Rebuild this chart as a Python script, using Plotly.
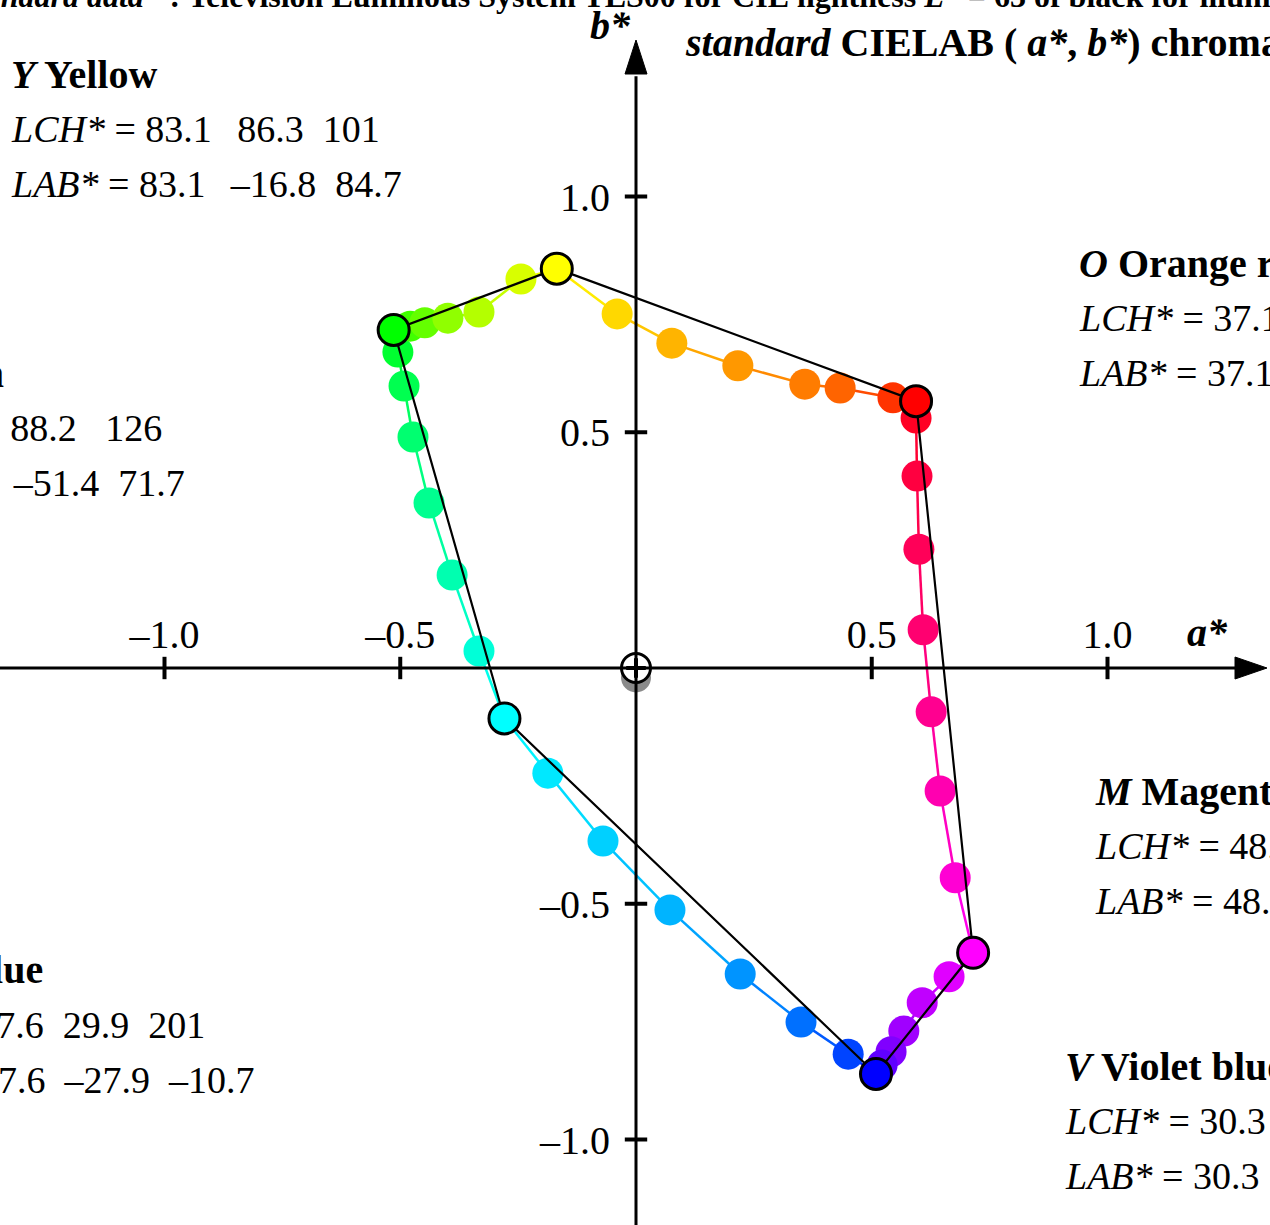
import plotly.graph_objects as go

# ---------------- data (a*, b* chroma coordinates = LAB/100) ----------------
hue_a = [-0.168, -0.040, 0.076, 0.216, 0.358, 0.433, 0.545,
         0.594, 0.594, 0.596, 0.600, 0.609, 0.626, 0.645, 0.677,
         0.715, 0.664, 0.607, 0.568, 0.541, 0.522,
         0.509, 0.450, 0.350, 0.221, 0.072, -0.070, -0.187,
         -0.279, -0.333, -0.390, -0.439, -0.473, -0.492, -0.505,
         -0.514, -0.479, -0.448, -0.399, -0.333, -0.244]
hue_b = [0.847, 0.751, 0.689, 0.641, 0.602, 0.594, 0.573,
         0.566, 0.530, 0.407, 0.252, 0.081, -0.093, -0.261, -0.445,
         -0.604, -0.655, -0.710, -0.770, -0.814, -0.842,
         -0.861, -0.819, -0.751, -0.649, -0.513, -0.367, -0.223,
         -0.107, 0.036, 0.197, 0.350, 0.490, 0.598, 0.670,
         0.717, 0.725, 0.732, 0.742, 0.755, 0.825]

main_names = ["Y", "O", "M", "V", "C", "L"]
main_a = [-0.168, 0.594, 0.715, 0.509, -0.279, -0.514]
main_b = [0.847, 0.566, -0.604, -0.861, -0.107, 0.717]

grey_a = [0.0]
grey_b = [-0.02]
origin_a = [0.0]
origin_b = [0.0]

tick_vals = [-1.0, -0.5, 0.5, 1.0]
tick_text = ["–1.0", "–0.5", "0.5", "1.0"]

# ---------------- styles ----------------
dot_colors = ["#ffff00", "#ffd800", "#ffb400", "#ff9800", "#ff7c00", "#ff6400", "#ff3300",
              "#ff0000", "#ff0024", "#ff0040", "#ff0058", "#ff0070", "#ff0090", "#ff00b0", "#ff00d4",
              "#ff00ff", "#e000ff", "#c000ff", "#a000ff", "#8000ff", "#6000ff",
              "#0000ff", "#0044ff", "#0070ff", "#0094ff", "#00b4ff", "#00d0ff", "#00e8ff",
              "#00ffff", "#00ffd8", "#00ffb0", "#00ff90", "#00ff70", "#00ff50", "#00ff30",
              "#00ff00", "#40ff00", "#64ff00", "#90ff00", "#b4ff00", "#d8ff00"]
main_colors = ["#ffff00", "#ff0000", "#ff00ff", "#0000ff", "#00ffff", "#00ff00"]

W, H = 1270, 1225
X0, Y0, S = 636.0, 668.0, 471.5
xr = [-X0 / S, (W - X0) / S]
yr = [-(H - Y0) / S, Y0 / S]
FONT = "Liberation Serif"
FS = 40
FV = 38


def hx(c):
    c = c.lstrip("#")
    return [int(c[i:i + 2], 16) for i in (0, 2, 4)]


def mix(c1, c2):
    r1, r2 = hx(c1), hx(c2)
    return "#%02x%02x%02x" % tuple((a + b) // 2 for a, b in zip(r1, r2))


fig = go.Figure()

# coloured connecting lines
n = len(hue_a)
for i in range(n):
    j = (i + 1) % n
    fig.add_trace(go.Scatter(x=[hue_a[i], hue_a[j]], y=[hue_b[i], hue_b[j]], mode="lines",
                             line=dict(color=mix(dot_colors[i], dot_colors[j]), width=2.5),
                             hoverinfo="skip", cliponaxis=False))

# grey (neutral) shadow and origin
fig.add_trace(go.Scatter(x=grey_a, y=grey_b, mode="markers",
                         marker=dict(size=30, color="#8a8a8a", line=dict(width=0))))

# coloured dots
fig.add_trace(go.Scatter(x=hue_a, y=hue_b, mode="markers",
                         marker=dict(size=31, color=dot_colors, line=dict(width=0))))

# black polygon
fig.add_trace(go.Scatter(x=main_a + main_a[:1], y=main_b + main_b[:1], mode="lines",
                         line=dict(color="black", width=2.2)))

# tick marks (crossing the axes)
fig.add_trace(go.Scatter(x=tick_vals, y=[0] * len(tick_vals), mode="markers",
                         marker=dict(symbol="line-ns", size=16, line=dict(width=4, color="black"))))
fig.add_trace(go.Scatter(x=[0] * len(tick_vals), y=tick_vals, mode="markers",
                         marker=dict(symbol="line-ew", size=16, line=dict(width=4, color="black"))))

# main points
fig.add_trace(go.Scatter(x=main_a, y=main_b, mode="markers", text=main_names,
                         marker=dict(size=31, color=main_colors, line=dict(width=3, color="black"))))
fig.add_trace(go.Scatter(x=origin_a, y=origin_b, mode="markers",
                         marker=dict(size=29, color="white", line=dict(width=3, color="black"))))
fig.add_trace(go.Scatter(x=origin_a, y=origin_b, mode="markers",
                         marker=dict(symbol="cross-thin", size=14, line=dict(width=4, color="black"))))

# axis lines and arrowheads
ax_tip = (1267 - X0) / S
ax_base = (1235 - X0) / S
by_tip = (Y0 - 40) / S
by_base = (Y0 - 74) / S
hw = 11 / S
fig.add_shape(type="line", x0=xr[0], y0=0, x1=ax_base + 0.005, y1=0, line=dict(color="black", width=3))
fig.add_shape(type="line", x0=0, y0=yr[0], x1=0, y1=by_base - 0.005, line=dict(color="black", width=3))
fig.add_shape(type="path", path=f"M {ax_base},{-hw} L {ax_tip},0 L {ax_base},{hw} Z",
              fillcolor="black", line=dict(color="black", width=1))
fig.add_shape(type="path", path=f"M {-hw},{by_base} L 0,{by_tip} L {hw},{by_base} Z",
              fillcolor="black", line=dict(color="black", width=1))


def px(x):
    return x / W


def py(y):
    return 1 - y / H


def txt(s, x, y, anchor="left", size=FS):
    fig.add_annotation(text=s, x=px(x), y=py(y), xref="paper", yref="paper",
                       xanchor=anchor, yanchor="middle", showarrow=False,
                       font=dict(family=FONT, size=size, color="black"))


sp = "\u00a0"
g1 = sp * 2 + "\u2006"
g2 = sp * 2

# titles
txt('<b><i>Standard data</i>" : Television Luminous System TLS00 for CIE lightness <i>L*</i> = 63 of black for illuminant D65</b>',
    -44, -4, size=32)
txt("<b><i>standard</i> CIELAB ( <i>a*</i>, <i>b*</i>) chromaticity diagram</b>", 683, 43)
txt("<b><i>b*</i></b>", 610, 25, "center")
txt("<b><i>a*</i></b>", 1207, 632, "center")

# Yellow
txt("<b><i>Y</i> Yellow</b>", 9, 74)
txt(f"<i>LCH*</i> = 83.1{g1}86.3{g2}101", 9, 129, size=FV)
txt(f"<i>LAB*</i> = 83.1{g1}–16.8{g2}84.7", 9, 184, size=FV)
# Leaf green (mostly off-page)
txt("<b><i>L</i> Leaf green</b>", 6, 373, "right")
txt(f"<i>LCH*</i> = 87.6{g1}88.2{g2}{sp}126", 164, 428, "right", size=FV)
txt(f"<i>LAB*</i> = 87.6{g1}–51.4{g2}71.7", 187, 483, "right", size=FV)
# Cyan blue (mostly off-page)
txt("<b><i>C</i> Cyan blue</b>", 45, 970, "right")
txt(f"<i>LCH*</i> = 47.6{g2}29.9{g2}201", 207, 1025, "right", size=FV)
txt(f"<i>LAB*</i> = 47.6{g2}–27.9{g2}–10.7", 257, 1080, "right", size=FV)
# Orange red
txt("<b><i>O</i> Orange red</b>", 1077, 263)
txt(f"<i>LCH*</i> = 37.1{g1}82.0{g2}44", 1077, 318, size=FV)
txt(f"<i>LAB*</i> = 37.1{g1}59.4{g2}56.6", 1077, 373, size=FV)
# Magenta red
txt("<b><i>M</i> Magenta red</b>", 1093, 791)
txt(f"<i>LCH*</i> = 48.2{g1}93.6{g2}320", 1093, 846, size=FV)
txt(f"<i>LAB*</i> = 48.2{g1}71.5{g2}–60.4", 1093, 901, size=FV)
# Violet blue
txt("<b><i>V</i> Violet blue</b>", 1063, 1066)
txt(f"<i>LCH*</i> = 30.3{g1}100{g2}301", 1063, 1121, size=FV)
txt(f"<i>LAB*</i> = 30.3{g1}50.9{g2}–86.1", 1063, 1176, size=FV)

fig.update_layout(
    width=W, height=H, margin=dict(l=0, r=0, t=0, b=0, pad=0),
    paper_bgcolor="white", plot_bgcolor="white", showlegend=False,
    font=dict(family=FONT, size=FS, color="black"),
    xaxis=dict(range=xr, showgrid=False, zeroline=False, showline=False, ticks="",
               tickvals=tick_vals, ticktext=tick_text, anchor="free",
               position=(H - Y0) / H, side="top", ticklabelstandoff=12,
               tickfont=dict(family=FONT, size=FS, color="black"), fixedrange=True),
    yaxis=dict(range=yr, showgrid=False, zeroline=False, showline=False, ticks="",
               tickvals=tick_vals, ticktext=tick_text, anchor="free",
               position=X0 / W, side="left", ticklabelstandoff=26,
               tickfont=dict(family=FONT, size=FS, color="black"), fixedrange=True),
)

fig.write_html("out.html")
